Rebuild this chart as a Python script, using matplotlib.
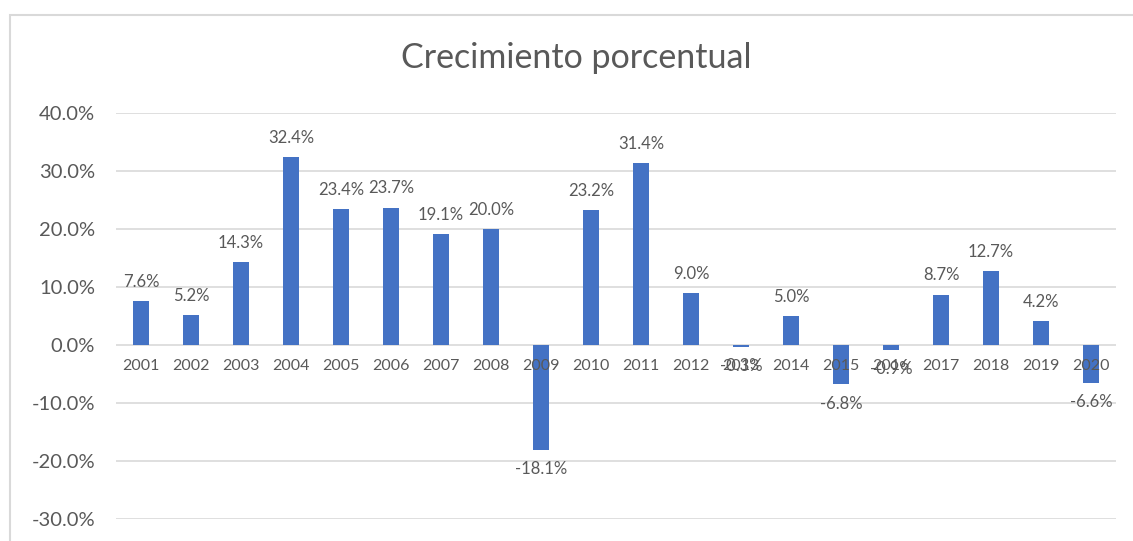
import matplotlib
matplotlib.use("Agg")
import matplotlib.pyplot as plt
from matplotlib.patches import Rectangle
from matplotlib.ticker import FuncFormatter

# Datos
anios = [str(a) for a in range(2001, 2021)]
crecimiento = [7.6, 5.2, 14.3, 32.4, 23.4, 23.7, 19.1, 20.0, -18.1, 23.2,
               31.4, 9.0, -0.3, 5.0, -6.8, -0.9, 8.7, 12.7, 4.2, -6.6]
y_ticks = [-30, -20, -10, 0, 10, 20, 30, 40]

plt.rcParams["font.family"] = ["Lato", "DejaVu Sans"]
texto = "#595959"
grid = "#D9D9D9"
azul = "#4472C4"

fig = plt.figure(figsize=(11.33, 5.41), dpi=100)
ax = fig.add_axes([116 / 1133, 1 - 519 / 541, 1000 / 1133, 406 / 541])

# marco del área del gráfico
W, H = 1133, 541
fig.patches.append(Rectangle((10 / W, -0.1), 1.2, 1 - 15 / H + 0.1,
                             transform=fig.transFigure, fill=False,
                             edgecolor=grid, linewidth=1.5))

# líneas de cuadrícula detrás de las barras
for t in y_ticks:
    ax.axhline(t, color=grid, linewidth=1.2, zorder=0)

x = list(range(len(anios)))
ax.bar(x, crecimiento, width=0.33, color=azul, zorder=2)
ax.set_axisbelow(False)  # etiquetas del eje encima de las barras

for xi, v in zip(x, crecimiento):
    if v >= 0:
        ax.annotate(f"{v:.1f}%", (xi, v), xytext=(0, 8), textcoords="offset points",
                    ha="center", va="bottom", fontsize=12, color=texto, zorder=4)
    else:
        ax.annotate(f"{v:.1f}%", (xi, v), xytext=(0, -8), textcoords="offset points",
                    ha="center", va="top", fontsize=12, color=texto, zorder=4)

ax.set_xlim(-0.5, len(anios) - 0.5)
ax.set_ylim(-30, 40)
ax.set_yticks(y_ticks)
ax.yaxis.set_major_formatter(FuncFormatter(lambda v, p: f"{v:.1f}%"))

ax.set_xticks(x)
ax.set_xticklabels(anios)
ax.spines["bottom"].set_position(("data", 0))
for s in ["top", "right", "left", "bottom"]:
    ax.spines[s].set_visible(False)
ax.tick_params(axis="x", length=0, pad=10, labelsize=11.5, labelcolor=texto)
ax.tick_params(axis="y", length=0, pad=15, labelsize=14.5, labelcolor=texto)

fig.text(576 / W, 1 - 58 / H, "Crecimiento porcentual", ha="center", va="center",
         fontsize=24.5, color=texto)

fig.savefig("out.png", dpi=100)
